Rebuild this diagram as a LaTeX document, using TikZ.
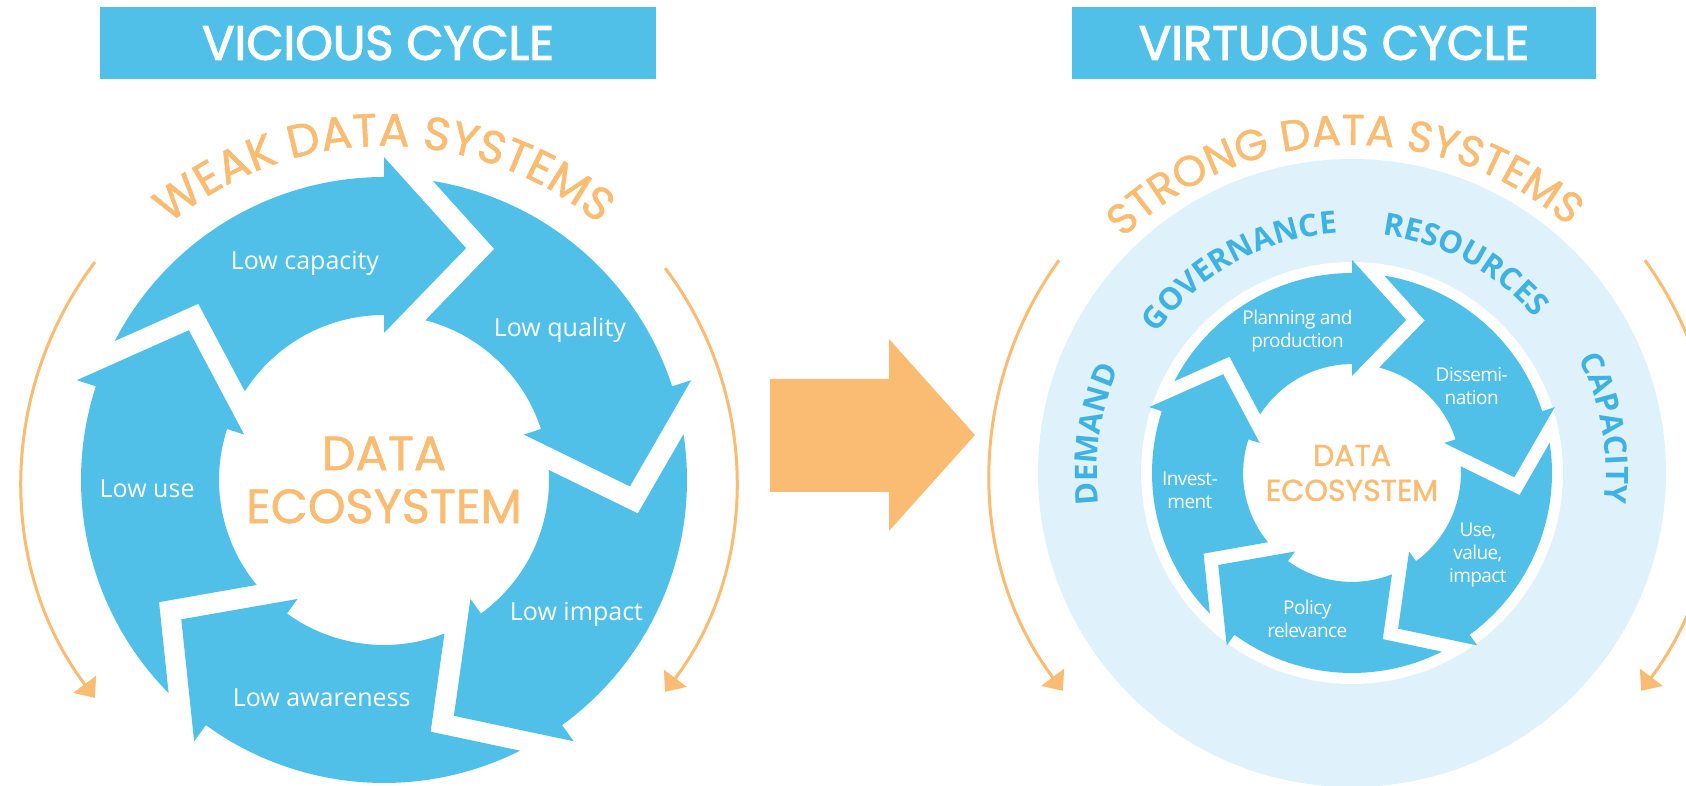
\documentclass[tikz,border=0pt]{standalone}
\usepackage{fontspec}
\setmainfont{Open Sans}
\newfontfamily\geofont{Poppins}[FakeBold=1.2]
\newfontfamily\titlefont{Poppins}[FakeBold=2.4]
\newfontfamily\narrowfont{Open Sans}[LetterSpace=-3.0]
\usetikzlibrary{arrows.meta, decorations.text}

\definecolor{cycblue}{RGB}{80,192,232}
\definecolor{ringblue}{RGB}{62,178,226}
\definecolor{cycorange}{RGB}{249,188,114}
\definecolor{paleblue}{RGB}{223,241,250}

% one chevron of a cycle, #1 = angle of the head base
\newcommand{\ringarrow}[1]{%
    \fill[cycblue] (#1+62.7:303) arc[start angle=#1+62.7, end angle=#1, radius=303]
        -- (#1:323) -- (#1-19.5:246) -- (#1:147) -- (#1:165)
        arc[start angle=#1, end angle=#1+57.5, radius=165]
        -- (#1+46.5:256) -- cycle;}

\begin{document}
\begin{tikzpicture}[
            x = 1pt, y = 1pt, % one unit per pixel
            > = {Triangle[length=17pt, width=28pt]}, % arrow head style
            line join = miter
        ]

        \tikzstyle{titlebox}=[
            fill = cycblue,
            text = white,
            font = \titlefont\fontsize{48}{48}\selectfont,
            minimum height = 72pt,
            inner sep = 0pt
        ]
        \tikzstyle{sidearc}=[->, draw = cycorange, line width = 3pt]
        \tikzstyle{lowlabel}=[text = white, font = \fontsize{25}{25}\selectfont]
        \tikzstyle{steplabel}=[text = white, align = center, font = \narrowfont\fontsize{19}{23}\selectfont]
        \tikzstyle{ecolabel}=[text = cycorange, align = center, inner sep = 0pt]

        \useasboundingbox (0,0) rectangle (1686,786);

        \node[titlebox, minimum width=556pt] (vicious) at (378,743) {VICIOUS CYCLE};
        \node[titlebox, minimum width=524pt] (virtuous) at (1334,743) {VIRTUOUS CYCLE};

        % vicious cycle
        \begin{scope}[shift={(384,306)}]
            \foreach \a in {90,18,-54,-126,162}
                \ringarrow{\a};

            \node[lowlabel] (capacity) at (110:231) {Low capacity};
            \node[lowlabel] (quality) at (40.4:231) {Low quality};
            \node[lowlabel] (impact) at (-35:235) {Low impact};
            \node[lowlabel] (awareness) at (-106:226) {Low awareness};
            \node[lowlabel] (use) at (182:237) {Low use};

            \node[ecolabel, font=\geofont\fontsize{48}{53}\selectfont] (weakeco) at (0,0) {DATA\\ECOSYSTEM};

            \path[decorate, decoration={text along path, text align=center,
                text={|\geofont\fontsize{46}{46}\selectfont\color{cycorange}|WEAK DATA SYSTEMS}}]
                (160:334) arc[start angle=160, end angle=20, radius=334];

            \draw[sidearc] (143:362) arc[start angle=143, end angle=217, radius=362];
            \draw[sidearc] (37:352) arc[start angle=37, end angle=-37, radius=352];
        \end{scope}

        % big arrow between the cycles
        \fill[cycorange] (770,294) -- (889,294) -- (889,255) -- (975,351)
            -- (889,447) -- (889,407) -- (770,407) -- cycle;

        % virtuous cycle
        \begin{scope}[shift={(1352,313)}]
            \fill[paleblue] (0,0) circle[radius=314];
            \fill[white] (0,0) circle[radius=211];

            \begin{scope}[scale=0.66]
                \foreach \a in {90,18,-54,-126,162}
                    \ringarrow{\a};
            \end{scope}

            \node[steplabel] (planning) at (111:152) {Planning and\\production};
            \node[steplabel] (dissem) at (36:148) {Dissemi-\\nation};
            \node[steplabel] (usevalue) at (-33:150) {Use,\\value,\\impact};
            \node[steplabel] (policy) at (-107:153) {Policy\\relevance};
            \node[steplabel] (invest) at (186:163) {Invest-\\ment};

            \node[ecolabel, font=\geofont\fontsize{30}{35}\selectfont] (strongeco) at (0,0) {DATA\\ECOSYSTEM};

            \path[decorate, decoration={text along path, text align=center,
                text={|\geofont\fontsize{43}{43}\selectfont\color{cycorange}|STRONG DATA SYSTEMS}}]
                (170:328) arc[start angle=170, end angle=13, radius=328];

            \path[decorate, decoration={text along path, text align=center,
                text={|\bfseries\fontsize{31}{31}\selectfont\color{ringblue}|DEMAND}}]
                (211:255) arc[start angle=211, end angle=132, radius=255];
            \path[decorate, decoration={text along path, text align=center,
                text={|\bfseries\fontsize{31}{31}\selectfont\color{ringblue}|GOVERNANCE}}]
                (169:240) arc[start angle=169, end angle=69, radius=240];
            \path[decorate, decoration={text along path, text align=center,
                text={|\bfseries\fontsize{31}{31}\selectfont\color{ringblue}|RESOURCES}}]
                (111.5:240) arc[start angle=111.5, end angle=11.5, radius=240];
            \path[decorate, decoration={text along path, text align=center,
                text={|\bfseries\fontsize{31}{31}\selectfont\color{ringblue}|CAPACITY}}]
                (60:254) arc[start angle=60, end angle=-40, radius=254];

            \draw[sidearc] (144:362) arc[start angle=144, end angle=217, radius=362];
            \draw[sidearc] (36:362) arc[start angle=36, end angle=-37, radius=362];
        \end{scope}
    \end{tikzpicture}
\end{document}
